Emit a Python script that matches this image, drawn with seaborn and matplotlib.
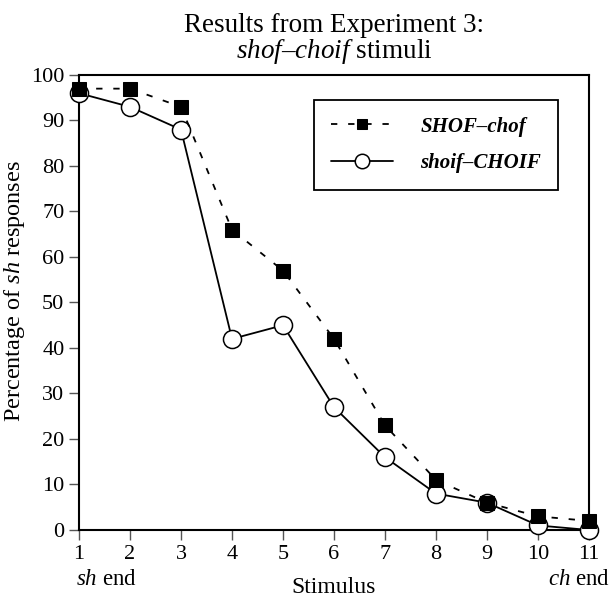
import matplotlib
matplotlib.use("Agg")
import matplotlib.pyplot as plt
import pandas as pd
import seaborn as sns

# Значения (проценты ответов "sh").
stimulus = [1, 2, 3, 4, 5, 6, 7, 8, 9, 10, 11]
shof_chof = [97, 97, 93, 66, 57, 42, 23, 11, 6, 3, 2]
shoif_choif = [96, 93, 88, 42, 45, 27, 16, 8, 6, 1, 0]
y_ticks = [0, 10, 20, 30, 40, 50, 60, 70, 80, 90, 100]

sns.set_style("ticks")
plt.rcParams["font.family"] = ["Liberation Serif", "DejaVu Serif"]
plt.rcParams["text.color"] = "black"
plt.rcParams["axes.labelcolor"] = "black"
plt.rcParams["mathtext.fontset"] = "custom"
plt.rcParams["mathtext.rm"] = "Liberation Serif"
plt.rcParams["mathtext.it"] = "Liberation Serif:italic"

df = pd.DataFrame({"stim": stimulus, "a": shof_chof, "b": shoif_choif})

fig = plt.figure(figsize=(6.1, 5.99), dpi=100)
ax = fig.add_axes([0.1295, 0.1152, 0.8361, 0.7596])

sns.lineplot(data=df, x="stim", y="b", ax=ax, color="black", lw=1.3,
             marker="o", markersize=13, markerfacecolor="white",
             markeredgecolor="black", markeredgewidth=1.1,
             label="shoif–CHOIF", zorder=3, clip_on=False)
sns.lineplot(data=df, x="stim", y="a", ax=ax, color="black", lw=1.3,
             marker="s", markersize=9.5, markerfacecolor="black",
             markeredgecolor="black", label="SHOF–chof", zorder=4,
             clip_on=False)
ax.lines[-1].set_dashes([3.5, 6])

ax.set_xlim(1, 11)
ax.set_ylim(0, 100)
ax.set_xticks(stimulus)
ax.set_yticks(y_ticks)
ax.tick_params(direction="out", length=7, width=1.0, labelsize=16,
               color="#555555", labelcolor="black")
for s in ax.spines.values():
    s.set_visible(True)
    s.set_color("black")
    s.set_linewidth(1.5)

ax.set_xlabel("Stimulus", fontsize=17, labelpad=10)
ax.set_ylabel("Percentage of $\\mathit{sh}$ responses", fontsize=17.5,
              labelpad=3)
ax.yaxis.label.set_y(0.525)
ax.set_title("Results from Experiment 3:\n$\\mathit{shof–choif}$ stimuli",
             fontsize=19.5, linespacing=0.95, pad=12)

tr = ax.get_xaxis_transform()
ax.annotate("$\\mathit{sh}$ end", xy=(1, 0), xycoords=tr,
            xytext=(-2, -28), textcoords="offset points",
            ha="left", va="top", fontsize=16.5)
ax.annotate("$\\mathit{ch}$ end", xy=(11, 0), xycoords=tr,
            xytext=(15, -28), textcoords="offset points",
            ha="right", va="top", fontsize=16.5, annotation_clip=False)

handles, labels = ax.get_legend_handles_labels()
leg = ax.legend(handles[::-1], labels[::-1], loc="upper right",
                bbox_to_anchor=(0.939, 0.945), borderaxespad=0,
                fancybox=False, framealpha=1, edgecolor="black",
                handlelength=3.0, borderpad=0.8, labelspacing=0.8,
                handletextpad=1.3, markerscale=0.8,
                prop={"size": 15, "style": "italic", "weight": "bold"})
leg.get_frame().set_linewidth(1.3)

fig.savefig("out.png", dpi=100)
